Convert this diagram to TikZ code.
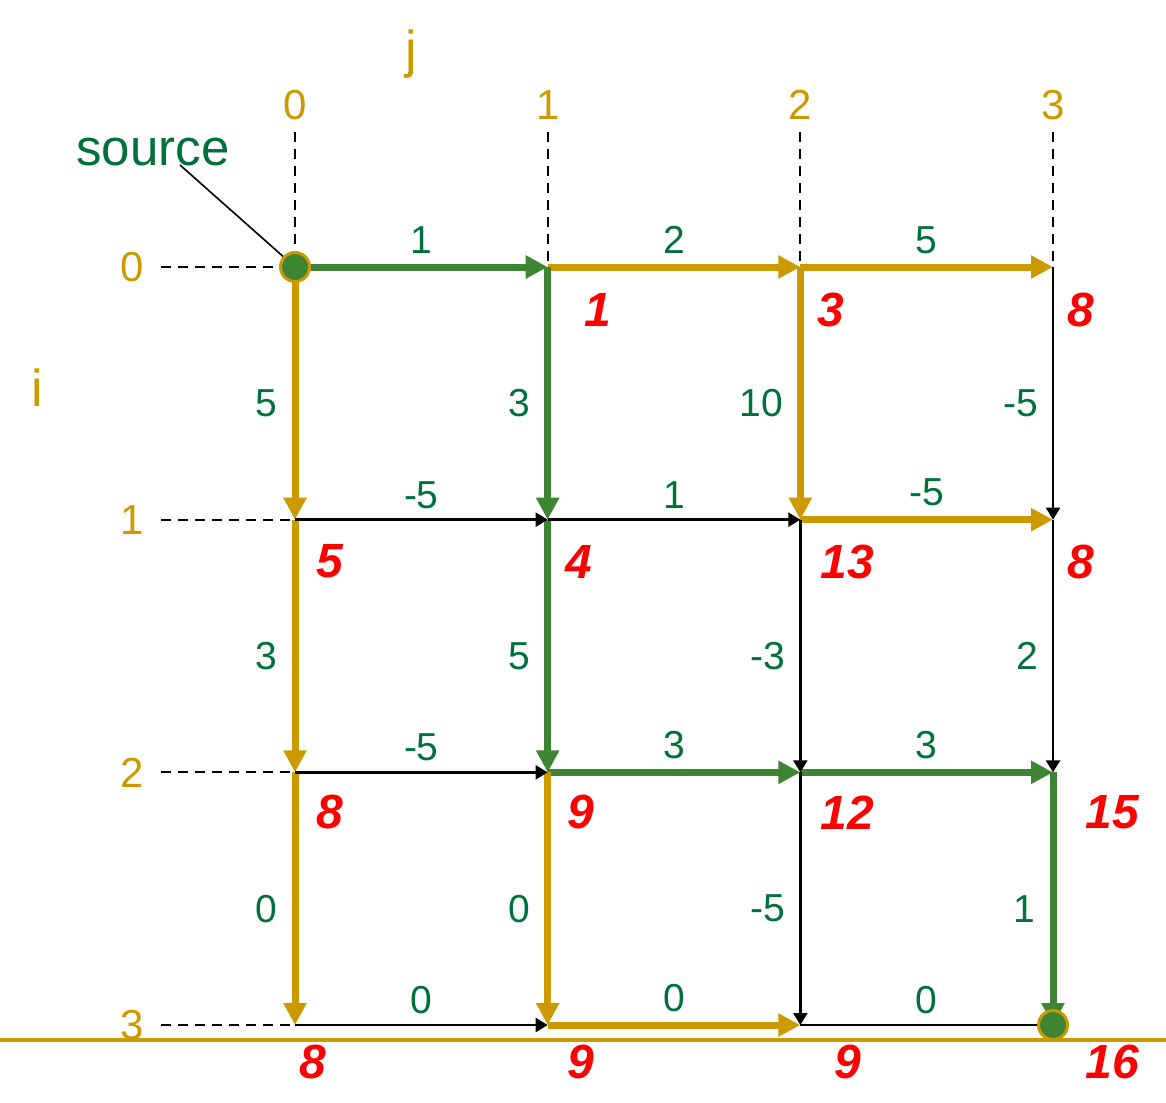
\documentclass[tikz,border=0pt]{standalone}
\usepackage{fontspec}
\setmainfont{Liberation Sans}
\usetikzlibrary{arrows.meta}

\definecolor{gold}{RGB}{204,153,0}
\definecolor{route}{RGB}{61,133,50}
\definecolor{wtgreen}{RGB}{0,112,60}

\begin{document}
\begin{tikzpicture}[x=0.5pt,y=-0.5pt,
  goldedge/.style={color=gold,line width=3.5pt,-{Triangle[length=11pt,width=11pt]}},
  greenedge/.style={color=route,line width=3.5pt,-{Triangle[length=11pt,width=11pt]}},
  blackedge/.style={color=black,line width=1.2pt,-{Triangle[length=6pt,width=7pt]}},
  guide/.style={draw=black,line width=1pt,dash pattern=on 5pt off 3.5pt},
  weight/.style={text=wtgreen,inner sep=0pt,font=\fontsize{19.5}{20}\selectfont},
  hw/.style={midway,above=5pt},
  vw/.style={midway,left=7pt,yshift=-5pt},
  index/.style={text=gold,inner sep=0pt,font=\fontsize{21}{22}\selectfont},
  axis/.style={text=gold,inner sep=0pt,anchor=base,font=\fontsize{26}{27}\selectfont},
  dist/.style={text=red,inner sep=0pt,font=\fontsize{24}{25}\selectfont\bfseries\itshape},
  endpoint/.style={circle,fill=route,draw=gold,line width=1.5pt,minimum size=14.5pt,inner sep=0pt}]
\useasboundingbox (0,0) rectangle (1166,1102);

% grid points
\foreach \i in {0,...,3}
  \foreach \j in {0,...,3}
    \coordinate (n\i\j) at ({295+252.67*\j},{267+252.67*\i});

% indices and guides
\node [axis] (jlab) at (411,68) {j};
\node [axis] (ilab) at (37,406) {i};
\foreach \k in {0,...,3} {
  \node [index] (c\k) at ({295+252.67*\k},105) {\k};
  \node [index] (r\k) at (132,{267+252.67*\k}) {\k};
  \coordinate (gt\k) at ({295+252.67*\k},132);
  \coordinate (gl\k) at (161,{267+252.67*\k});
  \draw [guide] (gt\k) -- (n0\k);
  \draw [guide] (gl\k) -- (n\k0);
}
\draw [gold,line width=2pt] (0,1040) -- (1166,1040);

% edges: thick ones first, thin ones on top
\foreach \a/\b/\w/\s/\p in {
    n00/n01/1/greenedge/hw, n01/n02/2/goldedge/hw, n02/n03/5/goldedge/hw,
    n12/n13/-5/goldedge/hw, n21/n22/3/greenedge/hw, n22/n23/3/greenedge/hw,
    n31/n32/0/goldedge/hw,
    n00/n10/5/goldedge/vw, n10/n20/3/goldedge/vw, n20/n30/0/goldedge/vw,
    n01/n11/3/greenedge/vw, n11/n21/5/greenedge/vw, n21/n31/0/goldedge/vw,
    n02/n12/10/goldedge/vw, n23/n33/1/greenedge/vw,
    n10/n11/-5/blackedge/hw, n11/n12/1/blackedge/hw,
    n20/n21/-5/blackedge/hw, n30/n31/0/blackedge/hw, n32/n33/0/blackedge/hw,
    n12/n22/-3/blackedge/vw, n22/n32/-5/blackedge/vw,
    n03/n13/-5/blackedge/vw, n13/n23/2/blackedge/vw}
  \draw [\s] (\a) -- node [weight,\p] (w\a\b) {\w} (\b);

% source and sink
\node [endpoint] (src) at (n00) {};
\node [endpoint] (snk) at (n33) {};
\node [text=wtgreen,inner sep=0pt,anchor=base,font=\fontsize{25.5}{26}\selectfont]
  (srclabel) at (153,165) {source};
\draw [line width=0.8pt] ([xshift=13.5pt]srclabel.base) -- (src);

% distances
\foreach \i/\j/\d/\dx/\dy in {0/1/1/50/43, 0/2/3/30/43, 0/3/8/28/43,
    1/0/5/35/42, 1/1/4/31/42, 1/2/13/47/42, 1/3/8/28/42,
    2/0/8/35/40, 2/1/9/33/40, 2/2/12/47/40, 2/3/15/59/40,
    3/0/8/18/37, 3/1/9/33/37, 3/2/9/47/37, 3/3/16/59/37}
  \node [dist] (d\i\j) at ([shift={(\dx,\dy)}]n\i\j) {\d};
\end{tikzpicture}
\end{document}
